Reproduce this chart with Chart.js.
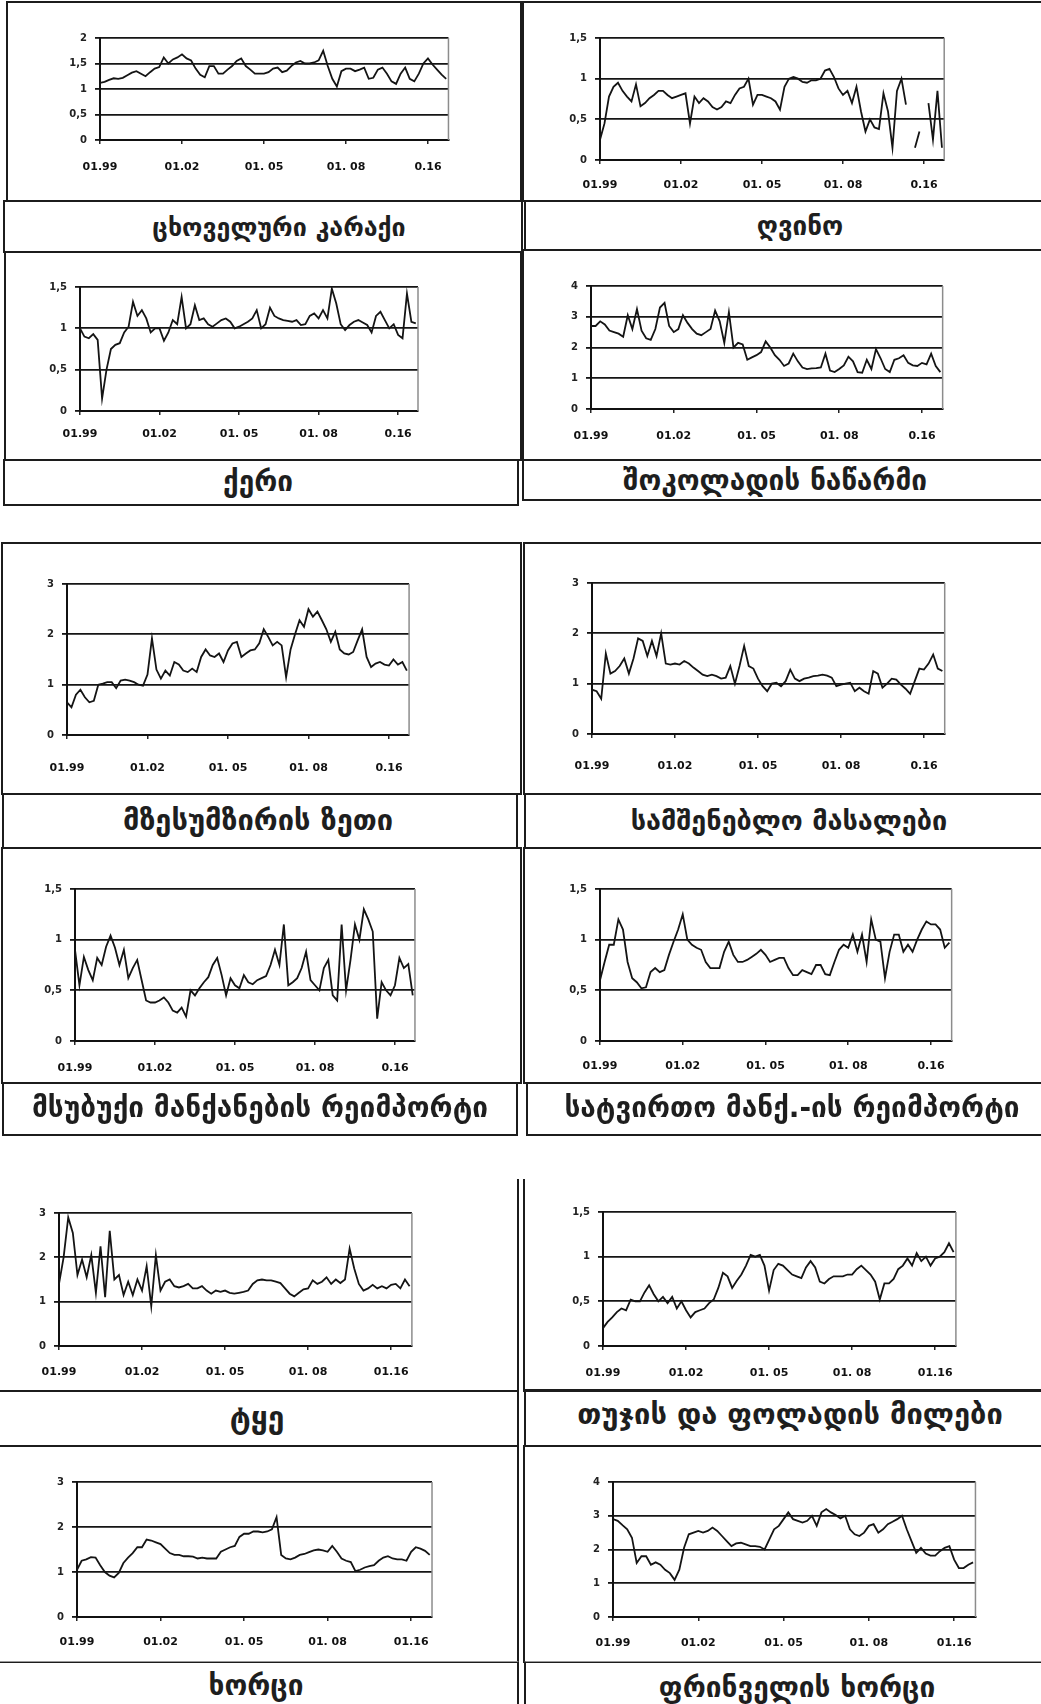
<!DOCTYPE html>
<html>
<head>
<meta charset="utf-8">
<script src="https://cdn.jsdelivr.net/npm/chart.js@4.4.0/dist/chart.umd.min.js"></script>
<style>
    body { margin: 0; background: #fff; width: 1041px; height: 1704px; position: relative; overflow: hidden; font-family: 'DejaVu Sans', sans-serif; }
    .box { position: absolute; border: 2px solid #1c1c1c; box-sizing: border-box; }
    .semTopo { border-top: none; }
    .cinza { border-top: 1px solid #999; }
    .cap { position: absolute; transform: translate(-50%, -50%); white-space: nowrap; font-size: 28px; font-weight: bold; color: #1e1e1e; }
    .plot { position: absolute; }
</style>
</head>
<body>

<!-- bloco 1 -->
<div class="box" style="left:6px;top:1px;width:516px;height:201px"></div>
<div class="box" style="left:3px;top:200px;width:520px;height:53px"></div>
<div class="box" style="left:522px;top:1px;width:530px;height:201px"></div>
<div class="box" style="left:524px;top:200px;width:530px;height:51px"></div>
<div class="box" style="left:4px;top:251px;width:518px;height:210px"></div>
<div class="box" style="left:3px;top:459px;width:516px;height:47px"></div>
<div class="box" style="left:522px;top:249px;width:530px;height:212px"></div>
<div class="box" style="left:522px;top:459px;width:530px;height:42px"></div>

<!-- bloco 2 -->
<div class="box" style="left:1px;top:542px;width:521px;height:253px"></div>
<div class="box" style="left:2px;top:793px;width:516px;height:56px"></div>
<div class="box" style="left:523px;top:542px;width:530px;height:253px"></div>
<div class="box" style="left:524px;top:793px;width:530px;height:56px"></div>
<div class="box" style="left:1px;top:847px;width:521px;height:237px"></div>
<div class="box" style="left:2px;top:1082px;width:516px;height:54px"></div>
<div class="box" style="left:523px;top:847px;width:530px;height:237px"></div>
<div class="box" style="left:526px;top:1082px;width:530px;height:54px"></div>

<!-- bloco 3 -->
<div class="box semTopo" style="left:-4px;top:1179px;width:523px;height:213px"></div>
<div class="box" style="left:-4px;top:1390px;width:523px;height:57px"></div>
<div class="box semTopo" style="left:523px;top:1179px;width:530px;height:213px"></div>
<div class="box" style="left:524px;top:1389px;width:530px;height:58px"></div>
<div class="box" style="left:-4px;top:1445px;width:523px;height:218px"></div>
<div class="box cinza" style="left:-4px;top:1661px;width:523px;height:60px"></div>
<div class="box" style="left:523px;top:1445px;width:530px;height:218px"></div>
<div class="box cinza" style="left:524px;top:1661px;width:530px;height:60px"></div>

<div class="plot" style="left:50px;top:24px;width:409px;height:166px"><canvas id="g1"></canvas></div>
<div class="plot" style="left:550px;top:24px;width:403px;height:186px"><canvas id="g2"></canvas></div>
<div class="plot" style="left:30px;top:273px;width:396px;height:188px"><canvas id="g3"></canvas></div>
<div class="plot" style="left:541px;top:272px;width:412px;height:187px"><canvas id="g4"></canvas></div>
<div class="plot" style="left:17px;top:570px;width:409px;height:215px"><canvas id="g5"></canvas></div>
<div class="plot" style="left:542px;top:569px;width:418px;height:215px"><canvas id="g6"></canvas></div>
<div class="plot" style="left:25px;top:875px;width:401px;height:216px"><canvas id="g7"></canvas></div>
<div class="plot" style="left:550px;top:875px;width:410px;height:216px"><canvas id="g8"></canvas></div>
<div class="plot" style="left:9px;top:1199px;width:416px;height:197px"><canvas id="g9"></canvas></div>
<div class="plot" style="left:553px;top:1198px;width:417px;height:198px"><canvas id="g10"></canvas></div>
<div class="plot" style="left:27px;top:1468px;width:417px;height:199px"><canvas id="g11"></canvas></div>
<div class="plot" style="left:563px;top:1468px;width:425px;height:199px"><canvas id="g12"></canvas></div>

<div class="cap" id="t1" style="left:279px;top:227px;font-size:25px"></div>
<div class="cap" id="t2" style="left:800px;top:226px;font-size:26px"></div>
<div class="cap" id="t3" style="left:258px;top:481px"></div>
<div class="cap" id="t4" style="left:775px;top:480px"></div>
<div class="cap" id="t5" style="left:258px;top:820px;font-size:29px"></div>
<div class="cap" id="t6" style="left:789px;top:820px;font-size:27px"></div>
<div class="cap" id="t7" style="left:260px;top:1107px"></div>
<div class="cap" id="t8" style="left:792px;top:1107px"></div>
<div class="cap" id="t9" style="left:257px;top:1417px;font-size:30px"></div>
<div class="cap" id="t10" style="left:790px;top:1414px;font-size:29px"></div>
<div class="cap" id="t11" style="left:256px;top:1685px"></div>
<div class="cap" id="t12" style="left:797px;top:1687px"></div>

<script>
// titulos de cada painel
const titulos = [
    'ცხოველური კარაქი', 'ღვინო',
    'ქერი', 'შოკოლადის ნაწარმი',
    'მზესუმზირის ზეთი', 'სამშენებლო მასალები',
    'მსუბუქი მანქანების რეიმპორტი', 'სატვირთო მანქ.-ის რეიმპორტი',
    'ტყე', 'თუჯის და ფოლადის მილები',
    'ხორცი', 'ფრინველის ხორცი'
];

// rotulos do eixo x (uma marca a cada 36 meses)
const rotulosA = ['01.99', '01.02', '01. 05', '01. 08', '0.16'];
const rotulosB = ['01.99', '01.02', '01. 05', '01. 08', '01.16'];

// um valor a cada 2 meses a partir de 01.1999
const karaqi = [1.12, 1.14, 1.18, 1.21, 1.2, 1.22, 1.27, 1.32, 1.35, 1.3, 1.25, 1.33, 1.4, 1.43, 1.62, 1.5, 1.58, 1.62,
    1.68, 1.6, 1.56, 1.4, 1.28, 1.23, 1.45, 1.45, 1.3, 1.3, 1.38, 1.45, 1.55, 1.6, 1.45, 1.38, 1.3, 1.3,
    1.3, 1.33, 1.4, 1.42, 1.33, 1.36, 1.45, 1.52, 1.55, 1.5, 1.5, 1.52, 1.56, 1.75, 1.45, 1.2, 1.05, 1.35,
    1.4, 1.4, 1.35, 1.38, 1.42, 1.2, 1.22, 1.38, 1.42, 1.3, 1.15, 1.1, 1.3, 1.42, 1.2, 1.15, 1.3, 1.5,
    1.6, 1.48, 1.38, 1.28, 1.2];
const gvino = [0.25, 0.45, 0.78, 0.9, 0.95, 0.85, 0.78, 0.72, 0.93, 0.66, 0.7, 0.76, 0.8, 0.85, 0.85, 0.8, 0.76, 0.78,
    0.8, 0.82, 0.45, 0.78, 0.7, 0.76, 0.72, 0.65, 0.62, 0.65, 0.72, 0.7, 0.8, 0.88, 0.9, 1.0, 0.68, 0.8,
    0.8, 0.78, 0.76, 0.72, 0.62, 0.9, 1.0, 1.02, 1.0, 0.96, 0.95, 0.98, 0.98, 1.0, 1.1, 1.12, 1.02, 0.88,
    0.8, 0.85, 0.7, 0.9, 0.6, 0.35, 0.5, 0.4, 0.38, 0.82, 0.6, 0.15, 0.85, 1.0, 0.68, null, 0.15, 0.35,
    null, 0.7, 0.25, 0.85, 0.15];
const qeri = [1.0, 0.9, 0.88, 0.93, 0.86, 0.15, 0.5, 0.75, 0.8, 0.82, 0.95, 1.02, 1.32, 1.15, 1.22, 1.12, 0.95, 1.0,
    1.0, 0.85, 0.95, 1.1, 1.05, 1.38, 1.0, 1.05, 1.28, 1.1, 1.12, 1.05, 1.02, 1.06, 1.1, 1.12, 1.08, 1.0,
    1.02, 1.05, 1.08, 1.12, 1.22, 1.0, 1.05, 1.25, 1.15, 1.12, 1.1, 1.09, 1.08, 1.1, 1.04, 1.05, 1.15, 1.18,
    1.12, 1.22, 1.12, 1.48, 1.3, 1.05, 0.98, 1.04, 1.08, 1.1, 1.07, 1.04, 0.95, 1.15, 1.2, 1.1, 1.0, 1.05,
    0.92, 0.88, 1.42, 1.08, 1.06];
const shokoladi = [2.7, 2.7, 2.85, 2.75, 2.55, 2.5, 2.45, 2.35, 3.05, 2.6, 3.25, 2.55, 2.3, 2.25, 2.6, 3.3, 3.45, 2.7,
    2.5, 2.6, 3.05, 2.8, 2.6, 2.45, 2.4, 2.5, 2.6, 3.2, 2.85, 2.15, 3.15, 2.0, 2.15, 2.1, 1.6, 1.68,
    1.75, 1.85, 2.2, 2.0, 1.75, 1.6, 1.4, 1.48, 1.8, 1.55, 1.35, 1.3, 1.32, 1.33, 1.35, 1.8, 1.25, 1.2,
    1.3, 1.42, 1.7, 1.55, 1.2, 1.18, 1.6, 1.3, 1.95, 1.65, 1.3, 1.2, 1.6, 1.65, 1.75, 1.5, 1.42, 1.4,
    1.5, 1.45, 1.8, 1.4, 1.2];
const zeti = [0.65, 0.55, 0.8, 0.9, 0.75, 0.65, 0.68, 1.0, 1.02, 1.05, 1.05, 0.93, 1.08, 1.1, 1.08, 1.05, 1.0, 0.98,
    1.2, 1.92, 1.3, 1.12, 1.28, 1.18, 1.45, 1.4, 1.28, 1.25, 1.32, 1.25, 1.55, 1.7, 1.58, 1.55, 1.62, 1.45,
    1.68, 1.82, 1.85, 1.55, 1.62, 1.68, 1.7, 1.82, 2.1, 1.95, 1.78, 1.85, 1.78, 1.15, 1.7, 2.0, 2.28, 2.15,
    2.5, 2.35, 2.45, 2.28, 2.1, 1.85, 2.05, 1.7, 1.62, 1.6, 1.65, 1.88, 2.1, 1.55, 1.35, 1.42, 1.45, 1.4,
    1.38, 1.5, 1.4, 1.45, 1.28];
const samsheneblo = [0.88, 0.85, 0.7, 1.6, 1.2, 1.25, 1.35, 1.5, 1.2, 1.5, 1.9, 1.85, 1.55, 1.85, 1.55, 2.0, 1.4, 1.38,
    1.4, 1.38, 1.45, 1.4, 1.32, 1.25, 1.18, 1.15, 1.18, 1.15, 1.1, 1.12, 1.35, 1.0, 1.35, 1.75, 1.35, 1.3,
    1.1, 0.95, 0.85, 1.0, 1.02, 0.95, 1.05, 1.28, 1.1, 1.05, 1.1, 1.12, 1.15, 1.16, 1.18, 1.16, 1.12, 0.95,
    0.98, 1.0, 1.02, 0.85, 0.92, 0.85, 0.8, 1.25, 1.2, 0.92, 1.0, 1.1, 1.08, 0.98, 0.9, 0.8, 1.05, 1.3,
    1.28, 1.4, 1.58, 1.3, 1.25];
const msubuqi = [0.9, 0.55, 0.83, 0.7, 0.6, 0.82, 0.75, 0.93, 1.04, 0.92, 0.75, 0.9, 0.62, 0.72, 0.8, 0.6, 0.4, 0.38,
    0.38, 0.4, 0.43, 0.38, 0.3, 0.28, 0.33, 0.24, 0.5, 0.45, 0.52, 0.58, 0.63, 0.75, 0.82, 0.65, 0.45, 0.62,
    0.55, 0.52, 0.65, 0.58, 0.56, 0.6, 0.62, 0.64, 0.75, 0.9, 0.75, 1.15, 0.55, 0.58, 0.62, 0.72, 0.88, 0.6,
    0.55, 0.5, 0.72, 0.8, 0.45, 0.4, 1.15, 0.5, 0.8, 1.15, 1.0, 1.3, 1.2, 1.08, 0.22, 0.58, 0.5, 0.45,
    0.55, 0.82, 0.72, 0.76, 0.45];
const satvirto = [0.6, 0.78, 0.95, 0.95, 1.2, 1.1, 0.78, 0.62, 0.58, 0.52, 0.53, 0.68, 0.72, 0.68, 0.7, 0.85, 0.98, 1.1,
    1.25, 1.0, 0.95, 0.92, 0.9, 0.78, 0.72, 0.72, 0.72, 0.88, 0.98, 0.85, 0.78, 0.78, 0.8, 0.83, 0.86, 0.9,
    0.85, 0.78, 0.8, 0.82, 0.82, 0.72, 0.65, 0.65, 0.7, 0.68, 0.66, 0.75, 0.75, 0.66, 0.65, 0.78, 0.9, 0.95,
    0.92, 1.05, 0.88, 1.05, 0.78, 1.2, 1.0, 0.98, 0.62, 0.88, 1.05, 1.05, 0.88, 0.95, 0.88, 1.0, 1.1, 1.18,
    1.15, 1.15, 1.1, 0.92, 0.97];
const tkye = [1.4, 2.0, 2.9, 2.55, 1.6, 1.95, 1.55, 2.05, 1.2, 2.25, 1.1, 2.6, 1.5, 1.6, 1.15, 1.45, 1.15, 1.5,
    1.25, 1.8, 0.9, 2.05, 1.25, 1.45, 1.5, 1.35, 1.32, 1.35, 1.4, 1.3, 1.3, 1.35, 1.25, 1.18, 1.25, 1.22,
    1.25, 1.2, 1.18, 1.2, 1.22, 1.25, 1.4, 1.48, 1.5, 1.48, 1.48, 1.45, 1.42, 1.3, 1.18, 1.12, 1.2, 1.28,
    1.3, 1.48, 1.4, 1.45, 1.55, 1.4, 1.5, 1.42, 1.5, 2.2, 1.75, 1.4, 1.25, 1.3, 1.38, 1.3, 1.35, 1.3,
    1.38, 1.4, 1.3, 1.5, 1.35];
const milebi = [0.2, 0.27, 0.32, 0.38, 0.42, 0.4, 0.52, 0.5, 0.5, 0.6, 0.68, 0.58, 0.5, 0.55, 0.48, 0.55, 0.42, 0.5,
    0.4, 0.32, 0.38, 0.4, 0.42, 0.48, 0.52, 0.65, 0.82, 0.78, 0.65, 0.73, 0.8, 0.9, 1.02, 1.0, 1.02, 0.9,
    0.62, 0.85, 0.92, 0.9, 0.85, 0.8, 0.78, 0.76, 0.88, 0.95, 0.88, 0.72, 0.7, 0.75, 0.78, 0.78, 0.78, 0.8,
    0.8, 0.86, 0.9, 0.85, 0.8, 0.72, 0.52, 0.7, 0.7, 0.75, 0.86, 0.9, 0.98, 0.9, 1.04, 0.95, 1.0, 0.9,
    0.98, 1.0, 1.05, 1.15, 1.05];
const khortsi = [1.05, 1.25, 1.28, 1.33, 1.32, 1.15, 1.0, 0.92, 0.88, 0.98, 1.2, 1.32, 1.42, 1.55, 1.55, 1.72, 1.7, 1.66,
    1.62, 1.52, 1.42, 1.38, 1.38, 1.35, 1.35, 1.34, 1.3, 1.32, 1.3, 1.3, 1.3, 1.45, 1.5, 1.55, 1.58, 1.78,
    1.85, 1.85, 1.9, 1.9, 1.88, 1.9, 1.95, 2.22, 1.38, 1.3, 1.28, 1.32, 1.38, 1.4, 1.44, 1.48, 1.5, 1.48,
    1.45, 1.58, 1.45, 1.3, 1.25, 1.22, 1.02, 1.05, 1.1, 1.13, 1.15, 1.25, 1.32, 1.35, 1.3, 1.28, 1.28, 1.25,
    1.45, 1.55, 1.52, 1.47, 1.38];
const prinveli = [2.9, 2.85, 2.72, 2.6, 2.35, 1.6, 1.8, 1.8, 1.55, 1.62, 1.55, 1.4, 1.3, 1.1, 1.4, 2.05, 2.45, 2.5,
    2.55, 2.5, 2.55, 2.65, 2.55, 2.4, 2.25, 2.1, 2.18, 2.2, 2.15, 2.1, 2.1, 2.08, 2.0, 2.3, 2.6, 2.7,
    2.9, 3.1, 2.9, 2.85, 2.8, 2.85, 3.0, 2.7, 3.1, 3.2, 3.1, 3.02, 2.92, 3.0, 2.6, 2.45, 2.4, 2.5,
    2.7, 2.75, 2.5, 2.6, 2.75, 2.82, 2.9, 3.0, 2.6, 2.25, 1.9, 2.05, 1.88, 1.82, 1.82, 1.95, 2.05, 2.1,
    1.7, 1.45, 1.45, 1.55, 1.62];

// limites do eixo y [max, passo]
const escalas = [[2, 0.5], [1.5, 0.5], [1.5, 0.5], [4, 1], [3, 1], [3, 1], [1.5, 0.5], [1.5, 0.5], [3, 1], [1.5, 0.5], [3, 1], [4, 1]];
const series = [karaqi, gvino, qeri, shokoladi, zeti, samsheneblo, msubuqi, satvirto, tkye, milebi, khortsi, prinveli];
const espacoRotulo = [17, 15, 13, 17, 23, 22, 17, 15, 16, 17, 15, 16];

const MESES_POR_PASSO = 2;
const MESES_POR_MARCA = 36;

const moldura = {
    id: 'moldura',
    afterDraw(chart) {
        const a = chart.chartArea;
        const ctx = chart.ctx;
        ctx.save();
        ctx.strokeStyle = '#8c8c8c';
        ctx.lineWidth = 1.5;
        ctx.beginPath();
        ctx.moveTo(a.right, a.top);
        ctx.lineTo(a.right, a.bottom);
        ctx.stroke();
        ctx.restore();
    }
};

function virgula(v) {
    return String(v).replace('.', ',');
}

function criarGrafico(n) {
    const valores = series[n];
    const rotulos = n < 8 ? rotulosA : rotulosB;
    const pontos = valores.map(function (v, i) {
        return { x: i * MESES_POR_PASSO, y: v };
    });

    new Chart(document.getElementById('g' + (n + 1)), {
        type: 'line',
        data: {
            datasets: [{
                data: pontos,
                borderColor: '#141414',
                borderWidth: 1.8,
                pointRadius: 0,
                tension: 0,
                spanGaps: false
            }]
        },
        plugins: [moldura],
        options: {
            animation: false,
            responsive: true,
            maintainAspectRatio: false,
            layout: { padding: { left: 0, top: 8, right: 8, bottom: 0 } },
            plugins: { legend: { display: false }, tooltip: { enabled: false } },
            scales: {
                x: {
                    type: 'linear',
                    min: 0,
                    max: 153,
                    afterFit: function (s) { s.height = 50; },
                    border: { display: true, color: '#111', width: 2 },
                    grid: { drawOnChartArea: false, drawTicks: true, tickLength: 4, color: '#222', lineWidth: 1.5 },
                    ticks: {
                        stepSize: MESES_POR_MARCA,
                        includeBounds: false,
                        autoSkip: false,
                        maxRotation: 0,
                        padding: espacoRotulo[n],
                        color: '#111',
                        font: { family: 'DejaVu Sans', size: 11, weight: 'bold' },
                        callback: function (v) { return rotulos[v / MESES_POR_MARCA]; }
                    }
                },
                y: {
                    min: 0,
                    max: escalas[n][0],
                    afterFit: function (s) { s.width = 50; },
                    border: { display: true, color: '#111', width: 2 },
                    grid: { color: '#151515', lineWidth: 1.8, tickLength: 5 },
                    ticks: {
                        stepSize: escalas[n][1],
                        padding: 8,
                        color: '#222',
                        font: { family: 'DejaVu Sans', size: 10, weight: 'bold' },
                        callback: function (v) { return virgula(v); }
                    }
                }
            }
        }
    });
}

for (let i = 0; i < 12; i++) {
    document.getElementById('t' + (i + 1)).textContent = titulos[i];
    criarGrafico(i);
}
</script>
</body>
</html>
